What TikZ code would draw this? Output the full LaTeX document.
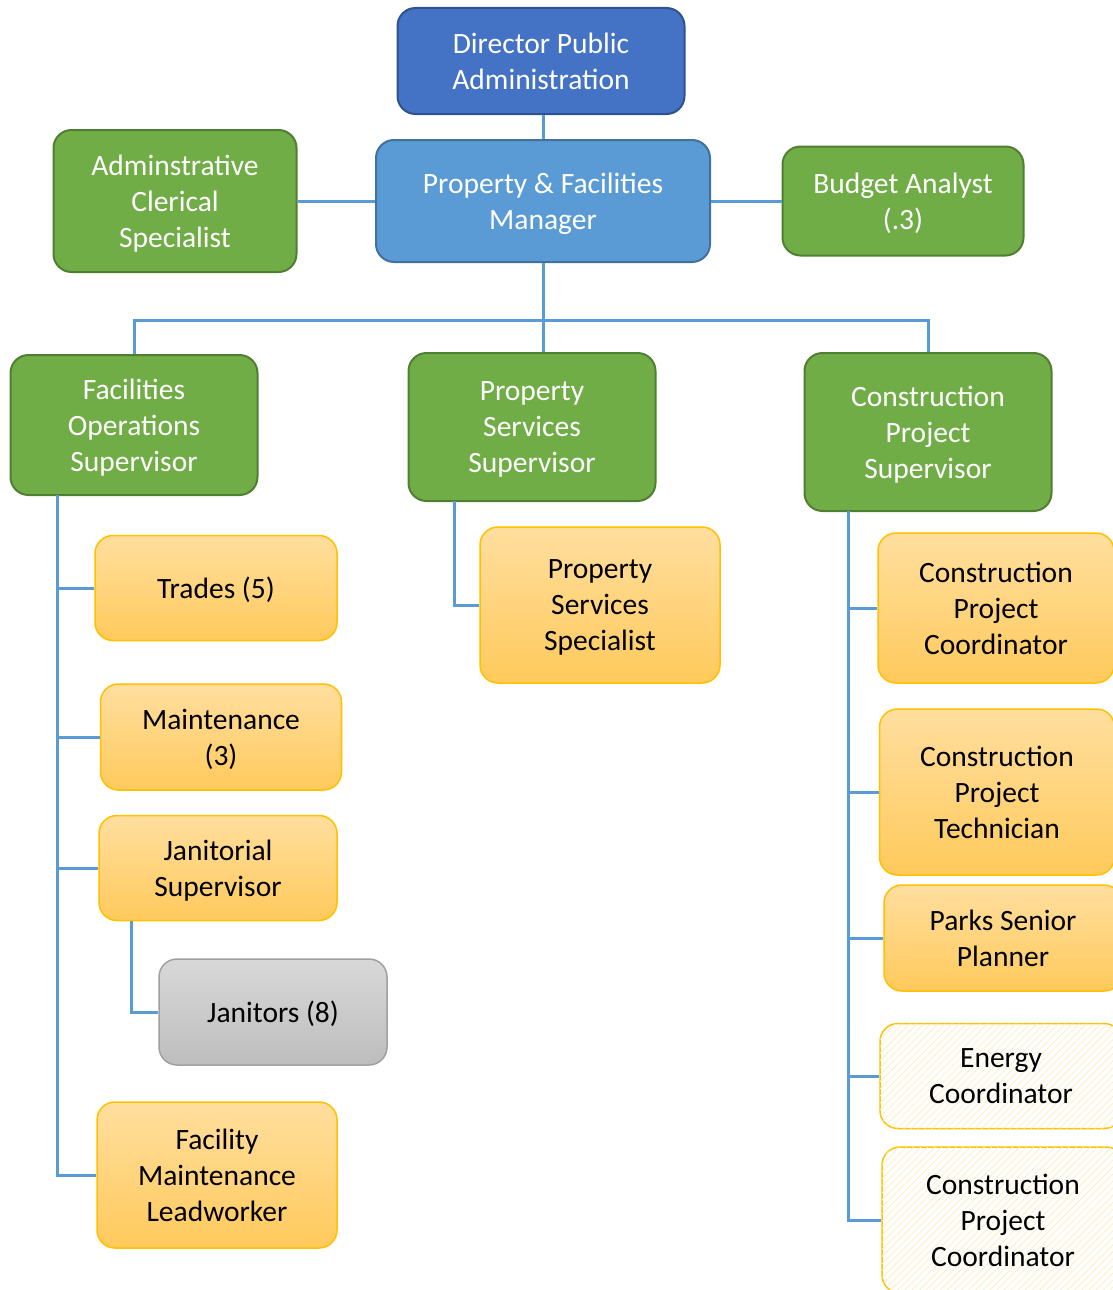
\documentclass[tikz,border=0pt]{standalone}
\usepackage{fontspec}
\setmainfont{Carlito}
\usetikzlibrary{patterns.meta}
\definecolor{dirblue}{HTML}{4472C4}
\definecolor{dirline}{HTML}{2F528F}
\definecolor{mgrblue}{HTML}{5B9BD5}
\definecolor{mgrline}{HTML}{41719C}
\definecolor{supgreen}{HTML}{70AD47}
\definecolor{supline}{HTML}{507E32}
\definecolor{stafftop}{HTML}{FFDE9E}
\definecolor{staffbot}{HTML}{FFCA5C}
\definecolor{staffline}{HTML}{FFC000}
\definecolor{greytop}{HTML}{D8D8D8}
\definecolor{greybot}{HTML}{BDBDBD}
\definecolor{greyline}{HTML}{A0A0A0}
\definecolor{hatch}{HTML}{FCEFC4}
\definecolor{linkblue}{HTML}{5B9BD5}
\tikzset{
  box/.style={draw, line width=2pt, rounded corners=18pt, align=center, inner sep=0pt,
    text depth=0pt, font=\fontsize{29.5}{36}\selectfont},
  boxsize/.style 2 args={minimum width=#1, minimum height=#2},
  director/.style={box, fill=dirblue, draw=dirline, text=white},
  manager/.style={box, fill=mgrblue, draw=mgrline, text=white},
  super/.style={box, fill=supgreen, draw=supline, text=white},
  staff/.style={box, top color=stafftop, bottom color=staffbot, draw=staffline, line width=1.5pt},
  greybox/.style={box, top color=greytop, bottom color=greybot, draw=greyline, line width=1.5pt},
  hatchbox/.style={box, draw=staffline, line width=1.5pt, fill=white,
    postaction={pattern={Lines[angle=45,distance=5pt,line width=0.8pt]}, pattern color=hatch}},
  link/.style={draw=linkblue, line width=3pt}
}
\begin{document}
\begin{tikzpicture}[x=1pt, y=-1pt]
  \useasboundingbox (0,0) rectangle (1112,1290);
  % top of the chart
  \node[director, boxsize={287pt}{106pt}] (dir) at (541,61) {Director Public\\Administration};
  \node[manager, boxsize={334pt}{122pt}] (pfm) at (543,201) {Property \& Facilities\\Manager};
  \node[super, boxsize={243pt}{142pt}] (admin) at (175,201) {Adminstrative\\Clerical\\Specialist};
  \node[super, boxsize={241pt}{109pt}] (budget) at (903,201) {Budget Analyst\\(.3)};
  % supervisors
  \node[super, boxsize={247pt}{140pt}] (fos) at (134,425) {Facilities\\Operations\\Supervisor};
  \node[super, boxsize={247pt}{148pt}] (pss) at (532,427) {Property\\Services\\Supervisor};
  \node[super, boxsize={247pt}{158pt}] (cps) at (928,432) {Construction\\Project\\Supervisor};
  % facilities staff
  \node[staff, boxsize={242pt}{105pt}] (trades) at (216,588) {Trades (5)};
  \node[staff, boxsize={241pt}{106pt}] (maint) at (221,737) {Maintenance\\(3)};
  \node[staff, boxsize={238pt}{105pt}] (janitorial) at (218,868) {Janitorial\\Supervisor};
  \node[greybox, boxsize={228pt}{106pt}] (janitors) at (273,1012) {Janitors (8)};
  \node[staff, boxsize={240pt}{146pt}] (leadworker) at (217,1175) {Facility\\Maintenance\\Leadworker};
  % property staff
  \node[staff, boxsize={240pt}{156pt}] (psspec) at (600,605) {Property\\Services\\Specialist};
  % construction staff
  \node[staff, boxsize={236pt}{150pt}] (cpc) at (996,608) {Construction\\Project\\Coordinator};
  \node[staff, boxsize={235pt}{166pt}] (cpt) at (997,792) {Construction\\Project\\Technician};
  \node[staff, boxsize={238pt}{106pt}] (parks) at (1003,938) {Parks Senior\\Planner};
  \node[hatchbox, boxsize={242pt}{105pt}] (energy) at (1001,1076) {Energy\\Coordinator};
  \node[hatchbox, boxsize={242pt}{146pt}] (cpc2) at (1003,1220) {Construction\\Project\\Coordinator};
  % connectors
  \coordinate (bus) at (543,320);
  \draw[link] (pfm.north) -- (pfm.north |- dir.south);
  \draw[link] (admin.east) -- (pfm.west);
  \draw[link] (pfm.east) -- (budget.west);
  \draw[link] (pfm.south) -- (pfm.south |- pss.north);
  \draw[link] (fos.north) |- (bus) -| (cps.north);
  \coordinate (fosl) at (57,495);
  \draw[link] (fosl) |- (leadworker.west);
  \foreach \n in {trades,maint,janitorial}
    \draw[link] (fosl |- \n.west) -- (\n.west);
  \coordinate (janl) at (131,921);
  \draw[link] (janl) |- (janitors.west);
  \coordinate (pssl) at (454,501);
  \draw[link] (pssl) |- (psspec.west);
  \coordinate (cpsl) at (848,511);
  \draw[link] (cpsl) |- (cpc2.west);
  \foreach \n in {cpc,cpt,parks,energy}
    \draw[link] (cpsl |- \n.west) -- (\n.west);
\end{tikzpicture}
\end{document}
